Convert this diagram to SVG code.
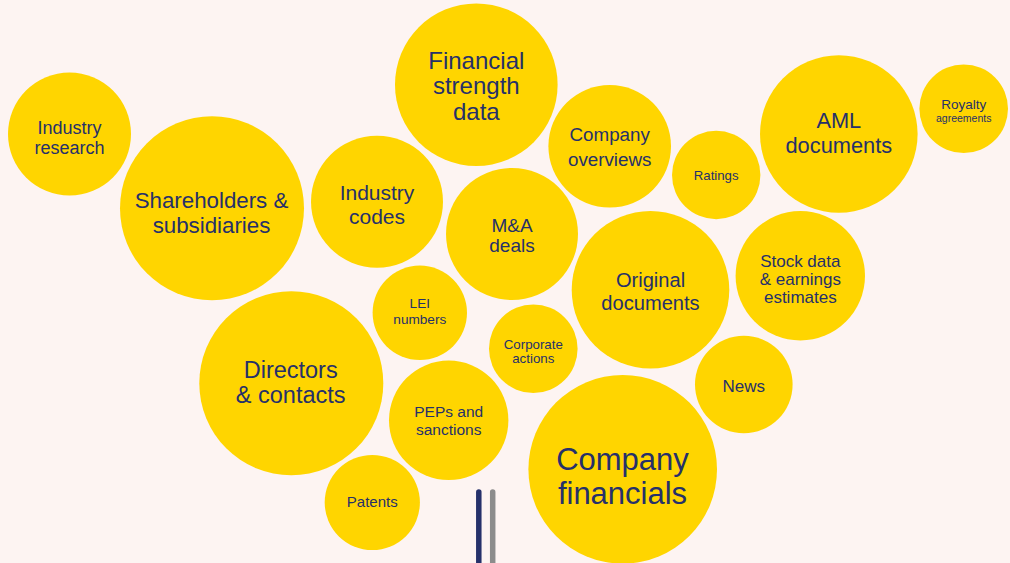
<svg xmlns="http://www.w3.org/2000/svg" width="1010" height="563" viewBox="0 0 1010 563">
<style>
.b{fill:#FFD500}
text{font-family:"Liberation Sans",Arial,sans-serif;fill:#26306a;text-anchor:middle}
</style>
<rect width="1010" height="563" fill="#FDF4F2"/>
<g id="connectors">
<line x1="478.8" y1="492" x2="478.8" y2="570" stroke="#26316B" stroke-width="5.5" stroke-linecap="round"/>
<line x1="492.7" y1="492" x2="492.7" y2="570" stroke="#8C8C8C" stroke-width="5.5" stroke-linecap="round"/>
</g>
<g id="industry-research"><circle class="b" cx="69.5" cy="134" r="61.5"/><text x="69.5" y="134" font-size="18">Industry</text><text x="69.5" y="154.3" font-size="18">research</text></g>
<g id="shareholders"><circle class="b" cx="212" cy="208.3" r="92"/><text x="211.5" y="208.3" font-size="22.3">Shareholders &amp;</text><text x="211.5" y="232.7" font-size="22.3">subsidiaries</text></g>
<g id="financial-strength"><circle class="b" cx="476.3" cy="84.7" r="81.3"/><text x="476.3" y="69" font-size="24">Financial</text><text x="476.3" y="94.3" font-size="24">strength</text><text x="476.3" y="120" font-size="24">data</text></g>
<g id="industry-codes"><circle class="b" cx="377" cy="201.7" r="66"/><text x="377" y="200" font-size="21">Industry</text><text x="377" y="224" font-size="21">codes</text></g>
<g id="company-overviews"><circle class="b" cx="609.7" cy="146.3" r="61.3"/><text x="609.7" y="141" font-size="18.8">Company</text><text x="609.7" y="166" font-size="18.8">overviews</text></g>
<g id="ratings"><circle class="b" cx="716.2" cy="175" r="44.2"/><text x="716.2" y="180" font-size="13.2">Ratings</text></g>
<g id="aml"><circle class="b" cx="838.8" cy="134" r="78.8"/><text x="838.8" y="128.3" font-size="21.8">AML</text><text x="838.8" y="152.7" font-size="21.8">documents</text></g>
<g id="royalty"><circle class="b" cx="963.7" cy="108.7" r="44.3"/><text x="963.7" y="108.7" font-size="13.5">Royalty</text><text x="963.7" y="121.5" font-size="10.5">agreements</text></g>
<g id="ma-deals"><circle class="b" cx="512" cy="234" r="66"/><text x="512" y="232" font-size="19">M&amp;A</text><text x="512" y="252" font-size="19">deals</text></g>
<g id="original-documents"><circle class="b" cx="650.5" cy="289.8" r="78.8"/><text x="650.5" y="286.7" font-size="20.1">Original</text><text x="650.5" y="310" font-size="20.1">documents</text></g>
<g id="stock-data"><circle class="b" cx="800.3" cy="275.8" r="64.7"/><text x="800.3" y="266.7" font-size="17">Stock data</text><text x="800.3" y="285" font-size="17">&amp; earnings</text><text x="800.3" y="302.7" font-size="17">estimates</text></g>
<g id="lei-numbers"><circle class="b" cx="419.8" cy="312.8" r="47.2"/><text x="419.8" y="308.3" font-size="13.6">LEI</text><text x="419.8" y="324" font-size="13.6">numbers</text></g>
<g id="corporate-actions"><circle class="b" cx="533.3" cy="348.7" r="44.3"/><text x="533.3" y="349" font-size="13.3">Corporate</text><text x="533.3" y="363.3" font-size="13.3">actions</text></g>
<g id="directors"><circle class="b" cx="291.3" cy="383.3" r="92"/><text x="290.7" y="377.5" font-size="23.5">Directors</text><text x="290.7" y="402.5" font-size="23.5">&amp; contacts</text></g>
<g id="peps"><circle class="b" cx="448.7" cy="420.3" r="59.7"/><text x="448.7" y="416.7" font-size="15.5">PEPs and</text><text x="448.7" y="435" font-size="15.5">sanctions</text></g>
<g id="news"><circle class="b" cx="743.8" cy="384.5" r="48.8"/><text x="743.8" y="391.7" font-size="17">News</text></g>
<g id="company-financials"><circle class="b" cx="622.7" cy="469.3" r="94.3"/><text x="622.5" y="470" font-size="31">Company</text><text x="622.5" y="504" font-size="31">financials</text></g>
<g id="patents"><circle class="b" cx="372.3" cy="502.5" r="47.6"/><text x="372.3" y="507.3" font-size="15">Patents</text></g>
</svg>
